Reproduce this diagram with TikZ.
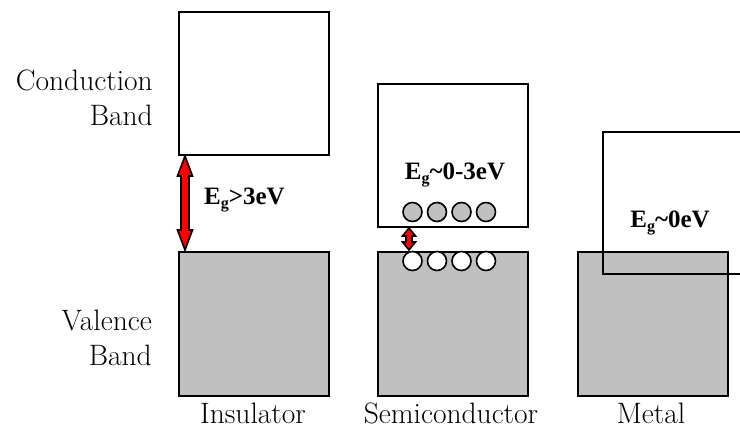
\documentclass[tikz,border=0pt]{standalone}
\usepackage{fontspec}
\newfontfamily\egfont{Liberation Serif}
\definecolor{bandgray}{RGB}{192,192,192}
\tikzset{
 band/.style={draw=black, line width=2.4pt, minimum width=150pt, inner sep=0pt, anchor=north west},
 vband/.style={band, fill=bandgray, minimum height=144pt},
 cband/.style={band, fill=white, minimum height=143pt},
 lbl/.style={font=\fontsize{29.5}{35}\selectfont, inner sep=0pt},
 eglbl/.style={font=\egfont\bfseries\fontsize{25}{30}\selectfont, inner sep=0pt},
 gaparrowsty/.style={fill=red, draw=black, line width=1.6pt, line join=miter},
 elec/.style={circle, draw=black, line width=1.6pt, fill=bandgray, minimum size=19pt, inner sep=0pt},
 hole/.style={elec, fill=white},
}
\newcommand\Eg{E\raisebox{-0.35ex}{\fontsize{16}{16}\selectfont g}}
% x, ytop, ybottom, shaft half width, head half width, head length
\newcommand\gaparrow[6]{%
 \filldraw[gaparrowsty] (#1,#2) -- ({#1+#5},{#2+#6}) -- ({#1+#4},{#2+#6}) -- ({#1+#4},{#3-#6}) -- ({#1+#5},{#3-#6}) -- (#1,#3) -- ({#1-#5},{#3-#6}) -- ({#1-#4},{#3-#6}) -- ({#1-#4},{#2+#6}) -- ({#1-#5},{#2+#6}) -- cycle;}
\begin{document}
\begin{tikzpicture}[x=1pt,y=-1pt]
\useasboundingbox (0,0) rectangle (740,429);
\clip (0,0) rectangle (740,429);
% insulator
\node[cband] (icb) at (178,11) {};
\node[vband] (ivb) at (178,251) {};
\gaparrow{185}{156}{250}{4}{7.5}{20}
\node[eglbl, anchor=west] (ieg) at (204,200) {\Eg>3eV};
% semiconductor
\node[cband] (scb) at (377,83) {};
\node[vband] (svb) at (377,251) {};
\foreach \i/\x in {1/412.5,2/437,3/461.5,4/486}{
  \node[elec] (e\i) at (\x,212) {};
  \node[hole] (h\i) at (\x,261) {};
}
\gaparrow{409}{228}{250}{3}{6.5}{8}
\node[eglbl] (seg) at (455,175) {\Eg\textasciitilde0-3eV};
% metal
\node[vband] (mvb) at (577,251) {};
\node[band, minimum width=200pt, minimum height=142pt] (mcb) at (602,131) {};
\node[eglbl] (meg) at (670,223) {\Eg\textasciitilde0eV};
% labels
\node[lbl, align=right, anchor=east] (cbl) at (153,97.5) {Conduction\\Band};
\node[lbl, align=right, anchor=east] (vbl) at (152,337.5) {Valence\\Band};
\node[lbl] (li) at (253,413) {Insulator};
\node[lbl] (ls) at (451,413) {Semiconductor};
\node[lbl] (lm) at (651,413) {Metal};
\end{tikzpicture}
\end{document}
